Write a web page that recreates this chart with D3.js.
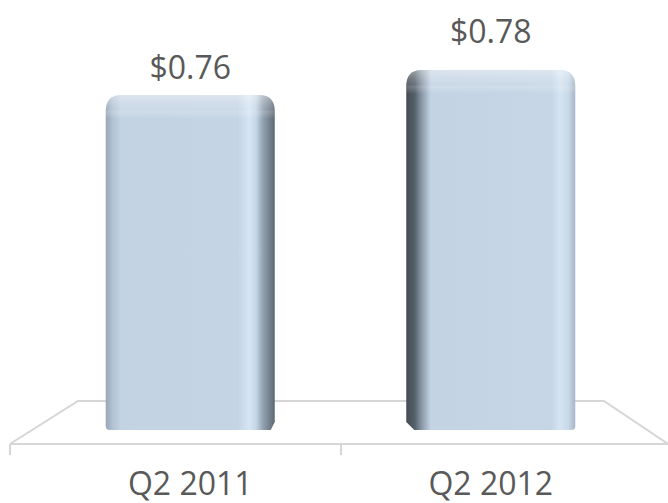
<!DOCTYPE html>
<html>
<head>
<meta charset="utf-8">
<script src="https://cdn.jsdelivr.net/npm/d3@7"></script>
<style>
  html, body { margin: 0; padding: 0; background: #ffffff; }
  svg { display: block; }
  text { font-family: "Open Sans", "Liberation Sans", sans-serif; fill: #595959; }
</style>
</head>
<body>
<div id="chart"></div>
<script>
// Earnings per share, second quarter comparison
const categories = ["Q2 2011", "Q2 2012"];
const values = [0.76, 0.78];
const valueLabels = ["$0.76", "$0.78"];

const W = 668, H = 503;
const svg = d3.select("#chart").append("svg")
  .attr("width", W).attr("height", H);

// Scales
const x = d3.scaleBand().domain(categories)
  .range([40, 641]).paddingInner(0.4376).paddingOuter(0.2188);
const floorX = d3.scaleBand().domain(categories).range([10, 672]);
const y = d3.scaleLinear().domain([0.5, 0.8]).range([420, 45]);

const floorBack = 401, floorFront = 444, barBase = 430;

// Floor (3D plane drawn in perspective)
const floor = svg.append("g").attr("fill", "none")
  .attr("stroke", "#d6d6d6").attr("stroke-width", 2);
floor.append("path")
  .attr("d", `M${floorX.range()[0]},${floorFront} L78,${floorBack} L604,${floorBack} L${floorX.range()[1] - 4},${floorFront}`);
floor.append("line")
  .attr("x1", floorX.range()[0]).attr("x2", floorX.range()[1])
  .attr("y1", floorFront).attr("y2", floorFront);
// Category boundary ticks
const tickPos = categories.map(c => floorX(c)).concat([floorX.range()[1]]);
floor.selectAll("line.tick").data(tickPos).join("line")
  .attr("class", "tick")
  .attr("x1", d => d).attr("x2", d => d)
  .attr("y1", floorFront).attr("y2", floorFront + 11);

const defs = svg.append("defs");

// Side shading: left bar shows its right side, right bar shows its left side
const gradStops = [
  [ [0, "#95a6b7"], [0.04, "#b1c2d3"], [0.09, "#c3d3e3"], [0.78, "#c4d4e4"],
    [0.85, "#d6e5f4"], [0.89, "#c5d5e4"], [0.93, "#93a2b0"], [1, "#5d6873"] ],
  [ [0, "#444c54"], [0.05, "#56606a"], [0.09, "#8797a6"], [0.145, "#c3d3e3"],
    [0.86, "#c6d6e6"], [0.91, "#d5e4f2"], [0.96, "#c8d8e7"], [1, "#a5b5c5"] ]
];
gradStops.forEach((stops, i) => {
  const g = defs.append("linearGradient").attr("id", "side" + i)
    .attr("x1", "0").attr("x2", "1").attr("y1", "0").attr("y2", "0");
  stops.forEach(([o, c]) => g.append("stop").attr("offset", o).attr("stop-color", c));
});
// Top bevel highlight
const hl = defs.append("linearGradient").attr("id", "topHL")
  .attr("x1", "0").attr("x2", "0").attr("y1", "0").attr("y2", "1");
[[0, "#ffffff", 0.4], [0.35, "#ffffff", 0.22], [0.6, "#ffffff", 0.12], [0.7, "#ffffff", 0.2], [1, "#ffffff", 0]]
  .forEach(([o, c, op]) => hl.append("stop").attr("offset", o)
    .attr("stop-color", c).attr("stop-opacity", op));

function barPath(x0, x1, top, bottom, i) {
  const r = 16, rb = 4, ch = 8;
  // chamfer on the bottom corner that shows the bar's side
  if (i === 0) {
    return `M${x0},${top + r} Q${x0},${top} ${x0 + r},${top} L${x1 - r},${top} Q${x1},${top} ${x1},${top + r}
      L${x1},${bottom - ch} L${x1 - ch / 2},${bottom} L${x0 + rb},${bottom} Q${x0},${bottom} ${x0},${bottom - rb} Z`;
  }
  return `M${x0},${top + r} Q${x0},${top} ${x0 + r},${top} L${x1 - r},${top} Q${x1},${top} ${x1},${top + r}
    L${x1},${bottom - rb} Q${x1},${bottom} ${x1 - rb},${bottom} L${x0 + ch},${bottom} L${x0},${bottom - ch} Z`;
}

const bars = svg.selectAll("g.bar").data(categories).join("g").attr("class", "bar");
bars.append("path")
  .attr("d", (c, i) => barPath(x(c), x(c) + x.bandwidth(), y(values[i]), barBase, i))
  .attr("fill", (c, i) => `url(#side${i})`);
bars.append("clipPath").attr("id", (c, i) => "clip" + i)
  .append("path")
  .attr("d", (c, i) => barPath(x(c), x(c) + x.bandwidth(), y(values[i]), barBase, i));
bars.append("rect")
  .attr("clip-path", (c, i) => `url(#clip${i})`)
  .attr("x", c => x(c)).attr("width", x.bandwidth())
  .attr("y", (c, i) => y(values[i])).attr("height", 24)
  .attr("fill", "url(#topHL)");

// Value labels; labels above taller bars are lifted further (perspective of the 3D view)
const yLow = y(d3.min(values));
svg.selectAll("text.value").data(categories).join("text")
  .attr("class", "value")
  .attr("x", c => x(c) + x.bandwidth() / 2)
  .attr("y", (c, i) => y(values[i]) - 16 - (yLow - y(values[i])) * 0.45)
  .attr("text-anchor", "middle")
  .attr("font-size", 32)
  .text((c, i) => valueLabels[i]);

// Category labels
svg.selectAll("text.cat").data(categories).join("text")
  .attr("class", "cat")
  .attr("x", c => x(c) + x.bandwidth() / 2)
  .attr("y", 495)
  .attr("text-anchor", "middle")
  .attr("font-size", 32)
  .text(c => c);
</script>
</body>
</html>
